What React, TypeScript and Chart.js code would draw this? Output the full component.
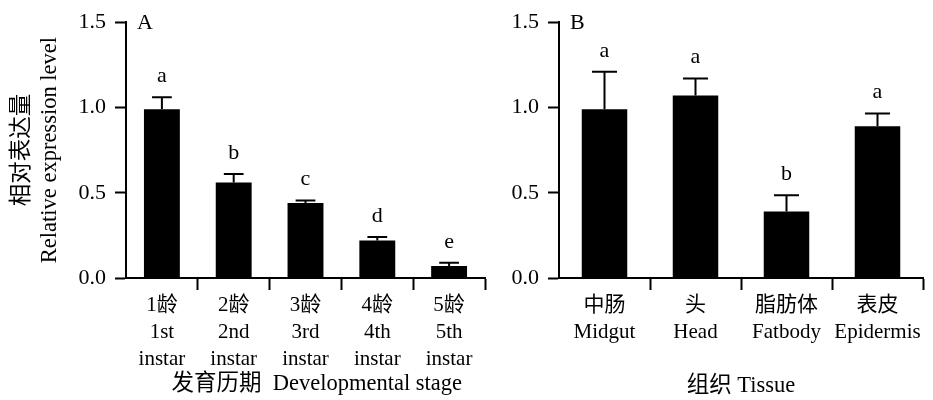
import React, { useEffect, useRef } from 'react';
import { Chart, registerables } from 'chart.js';

Chart.register(...registerables);

// ---- data ----
const stagesCN = ['1龄', '2龄', '3龄', '4龄', '5龄'];
const stagesEN1 = ['1st', '2nd', '3rd', '4th', '5th'];
const stagesEN2 = ['instar', 'instar', 'instar', 'instar', 'instar'];
const stageValues = [0.99, 0.56, 0.44, 0.22, 0.07];
const stageErrors = [0.07, 0.05, 0.015, 0.02, 0.02];
const stageLetters = ['a', 'b', 'c', 'd', 'e'];

const tissuesCN = ['中肠', '头', '脂肪体', '表皮'];
const tissuesEN = ['Midgut', 'Head', 'Fatbody', 'Epidermis'];
const tissueValues = [0.99, 1.07, 0.39, 0.89];
const tissueErrors = [0.22, 0.1, 0.095, 0.075];
const tissueLetters = ['a', 'a', 'b', 'a'];

const yTickValues = [0, 0.5, 1.0, 1.5];

const FAMILY = "'Liberation Serif', 'Noto Sans CJK SC', serif";

const errorPlugin = {
  id: 'errLetters',
  afterDatasetsDraw(chart: any, _args: any, opts: any) {
    const { ctx } = chart;
    const meta = chart.getDatasetMeta(0);
    const yScale = chart.scales.y;
    const data = chart.data.datasets[0].data as number[];
    ctx.save();
    ctx.strokeStyle = '#000';
    ctx.fillStyle = '#000';
    ctx.lineWidth = 2;
    ctx.font = `22px ${FAMILY}`;
    ctx.textAlign = 'center';
    ctx.textBaseline = 'alphabetic';
    meta.data.forEach((bar: any, i: number) => {
      const x = bar.x;
      const top = bar.y;
      const eTop = yScale.getPixelForValue(data[i] + opts.errors[i]);
      const half = (bar.width * 0.55) / 2;
      ctx.beginPath();
      ctx.moveTo(x, top);
      ctx.lineTo(x, eTop);
      ctx.moveTo(x - half, eTop);
      ctx.lineTo(x + half, eTop);
      ctx.stroke();
      ctx.fillText(opts.letters[i], x, eTop - 15);
    });
    ctx.textAlign = 'left';
    ctx.fillText(opts.panel, chart.chartArea.left + 11, chart.chartArea.top + 7);
    ctx.restore();
  },
};

function makeConfig(p: any): any {
  return {
    type: 'bar',
    data: {
      labels: p.labels,
      datasets: [
        {
          data: p.values,
          backgroundColor: '#000',
          borderColor: '#000',
          borderWidth: 0,
          barPercentage: 0.5,
          categoryPercentage: 1,
        },
      ],
    },
    plugins: [errorPlugin],
    options: {
      animation: false,
      responsive: true,
      maintainAspectRatio: false,
      layout: { padding: { top: 20, right: p.padRight, left: 0, bottom: 0 } },
      plugins: {
        legend: { display: false },
        tooltip: { enabled: false },
        errLetters: { errors: p.errors, letters: p.letters, panel: p.panel },
      },
      scales: {
        x: {
          ticks: {
            font: { family: FAMILY, size: 21, lineHeight: 27 / 21 },
            color: '#000',
            padding: 2,
            maxRotation: 0,
            autoSkip: false,
            callback: (_v: any, i: number) => p.tickLabel(i),
          },
          grid: {
            drawOnChartArea: false,
            offset: true,
            tickLength: 12,
            tickWidth: 2,
            tickColor: (c: any) => (c.index === 0 ? 'rgba(0,0,0,0)' : '#000'),
          },
          border: { color: '#000', width: 2 },
          afterFit: (s: any) => {
            s.height = 122;
          },
          title: {
            display: true,
            text: p.xTitle,
            color: '#000',
            font: { family: FAMILY, size: 22.5, lineHeight: 1.2 },
            padding: { top: 0, bottom: p.xTitlePad },
          },
        },
        y: {
          min: 0,
          max: 1.5,
          afterBuildTicks: (s: any) => {
            s.ticks = yTickValues.map((v) => ({ value: v }));
          },
          ticks: {
            font: { family: FAMILY, size: 22 },
            color: '#000',
            padding: 9,
            callback: (v: any) => Number(v).toFixed(1),
          },
          grid: {
            drawOnChartArea: false,
            tickLength: 11,
            tickWidth: 2,
            tickColor: '#000',
          },
          border: { color: '#000', width: 2 },
          afterFit: (s: any) => {
            s.width = p.yWidth;
          },
          title: p.yTitle
            ? {
                display: true,
                text: p.yTitle,
                color: '#000',
                font: { family: FAMILY, size: 22.5, lineHeight: 28 / 22.5 },
                padding: { top: 8, bottom: 0 },
              }
            : { display: false },
        },
      },
    },
  };
}

function Panel({ left, width, config }: { left: number; width: number; config: () => any }) {
  const ref = useRef<HTMLCanvasElement>(null);
  useEffect(() => {
    const chart = new Chart(ref.current as HTMLCanvasElement, config());
    return () => chart.destroy();
  }, []);
  return (
    <div style={{ position: 'absolute', left, top: 0, width, height: 400 }}>
      <canvas ref={ref} />
    </div>
  );
}

export default function App() {
  return (
    <div style={{ position: 'absolute', left: 0, top: 0, width: 933, height: 400, background: '#fff' }}>
      <Panel
        left={0}
        width={490}
        config={() =>
          makeConfig({
            labels: stagesCN,
            tickLabel: (i: number) => [stagesCN[i], stagesEN1[i], stagesEN2[i]],
            values: stageValues,
            errors: stageErrors,
            letters: stageLetters,
            panel: 'A',
            yWidth: 126,
            padRight: 5,
            yTitle: ['相对表达量', 'Relative expression level'],
            xTitle: '    发育历期  Developmental stage',
            xTitlePad: 2,
          })
        }
      />
      <Panel
        left={490}
        width={443}
        config={() =>
          makeConfig({
            labels: tissuesCN,
            tickLabel: (i: number) => [tissuesCN[i], tissuesEN[i]],
            values: tissueValues,
            errors: tissueErrors,
            letters: tissueLetters,
            panel: 'B',
            yWidth: 69,
            padRight: 10,
            yTitle: null,
            xTitle: '组织 Tissue',
            xTitlePad: 0,
          })
        }
      />
    </div>
  );
}
